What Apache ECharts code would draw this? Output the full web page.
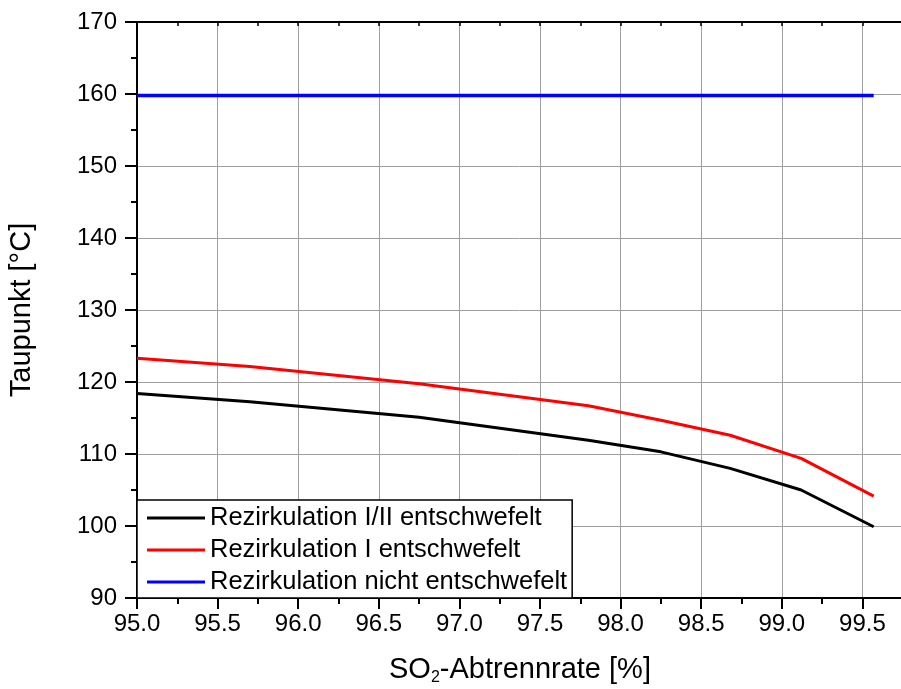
<!DOCTYPE html>
<html>
<head>
<meta charset="utf-8">
<script src="https://cdn.jsdelivr.net/npm/echarts@6/dist/echarts.min.js"></script>
<style>html,body{margin:0;padding:0;background:#fff}#c{width:901px;height:689px}</style>
</head>
<body>
<div id="c"></div>
<script>
// Data
const xValues = [95.0, 95.7, 96.75, 97.8, 98.25, 98.68, 99.12, 99.57];
const seriesNames = ['Rezirkulation I/II entschwefelt', 'Rezirkulation I entschwefelt', 'Rezirkulation nicht entschwefelt'];
const blackValues = [118.4, 117.25, 115.1, 111.9, 110.3, 108.0, 105.0, 99.9];
const redValues = [123.3, 122.15, 119.75, 116.7, 114.7, 112.6, 109.4, 104.15];
const blueValues = [159.8, 159.8, 159.8, 159.8, 159.8, 159.8, 159.8, 159.8];
const seriesColors = ['#000000', '#ff0000', '#0000ff'];
const yTitle = 'Taupunkt [°C]';

const FONT = 'Liberation Sans, Arial, sans-serif';
function pairs(vals) { return xValues.map((x, i) => [x, vals[i]]); }

const chart = echarts.init(document.getElementById('c'), null, { renderer: 'canvas' });
const gridLine = { show: true, lineStyle: { color: '#a0a0a0', width: 1 } };

chart.setOption({
  backgroundColor: '#ffffff',
  animation: false,
  grid: { left: 137, top: 22, bottom: 91, right: -42, outerBoundsMode: 'none', containLabel: false },
  xAxis: [
    {
      type: 'value', min: 95, max: 100, interval: 0.5, position: 'bottom',
      axisLine: { show: true, onZero: false, lineStyle: { color: '#000', width: 2 } },
      axisTick: { show: true, inside: false, length: 11, lineStyle: { color: '#000', width: 2 } },
      minorTick: { show: true, splitNumber: 2, length: 6, lineStyle: { color: '#000', width: 2 } },
      axisLabel: { show: true, margin: 14, fontSize: 24, fontFamily: FONT, color: '#000',
        formatter: v => v.toFixed(1) },
      splitLine: gridLine
    },
    {
      type: 'value', min: 95, max: 100, interval: 0.5, position: 'top',
      axisLine: { show: true, onZero: false, lineStyle: { color: '#000', width: 2 } },
      axisTick: { show: true, inside: true, length: 4, lineStyle: { color: '#000', width: 1.5 } },
      minorTick: { show: true, splitNumber: 2, length: 4, lineStyle: { color: '#000', width: 1.5 } },
      axisLabel: { show: false },
      splitLine: { show: false }
    }
  ],
  yAxis: {
    type: 'value', min: 90, max: 170, interval: 10,
    name: yTitle, nameLocation: 'middle', nameGap: 101, nameRotate: 90,
    nameTextStyle: { fontSize: 29, fontFamily: FONT, color: '#000' },
    axisLine: { show: true, onZero: false, lineStyle: { color: '#000', width: 2 } },
    axisTick: { show: true, inside: false, length: 12, lineStyle: { color: '#000', width: 2 } },
    minorTick: { show: true, splitNumber: 2, length: 6, lineStyle: { color: '#000', width: 2 } },
    axisLabel: { show: true, margin: 20, fontSize: 24, fontFamily: FONT, color: '#000' },
    splitLine: gridLine
  },
  legend: {
    orient: 'vertical', left: 137, top: 500,
    backgroundColor: '#ffffff', borderColor: '#000', borderWidth: 1.5, borderRadius: 0,
    padding: [5, 5, 3, 10], itemGap: 6, itemWidth: 58, itemHeight: 3, icon: 'rect',
    textStyle: { fontSize: 25.5, fontFamily: FONT, color: '#000' },
    data: seriesNames
  },
  graphic: [
    {
      type: 'text', left: 389, top: 654,
      style: {
        text: '{a|SO}{s|2}{a|-Abtrennrate [%]}',
        rich: {
          a: { fontSize: 29, fontFamily: FONT, fill: '#000', lineHeight: 33, verticalAlign: 'middle' },
          s: { fontSize: 16, fontFamily: FONT, fill: '#000', lineHeight: 16, padding: [16, 0, 0, 0], verticalAlign: 'bottom' }
        }
      }
    }
  ],
  series: [
    { name: seriesNames[0], type: 'line', data: pairs(blackValues), symbol: 'none', smooth: false,
      lineStyle: { color: seriesColors[0], width: 3 }, itemStyle: { color: seriesColors[0] }, z: 5 },
    { name: seriesNames[1], type: 'line', data: pairs(redValues), symbol: 'none', smooth: false,
      lineStyle: { color: seriesColors[1], width: 3 }, itemStyle: { color: seriesColors[1] }, z: 5 },
    { name: seriesNames[2], type: 'line', data: pairs(blueValues), symbol: 'none', smooth: false,
      lineStyle: { color: seriesColors[2], width: 3.5 }, itemStyle: { color: seriesColors[2] }, z: 5 }
  ]
});
</script>
</body>
</html>
